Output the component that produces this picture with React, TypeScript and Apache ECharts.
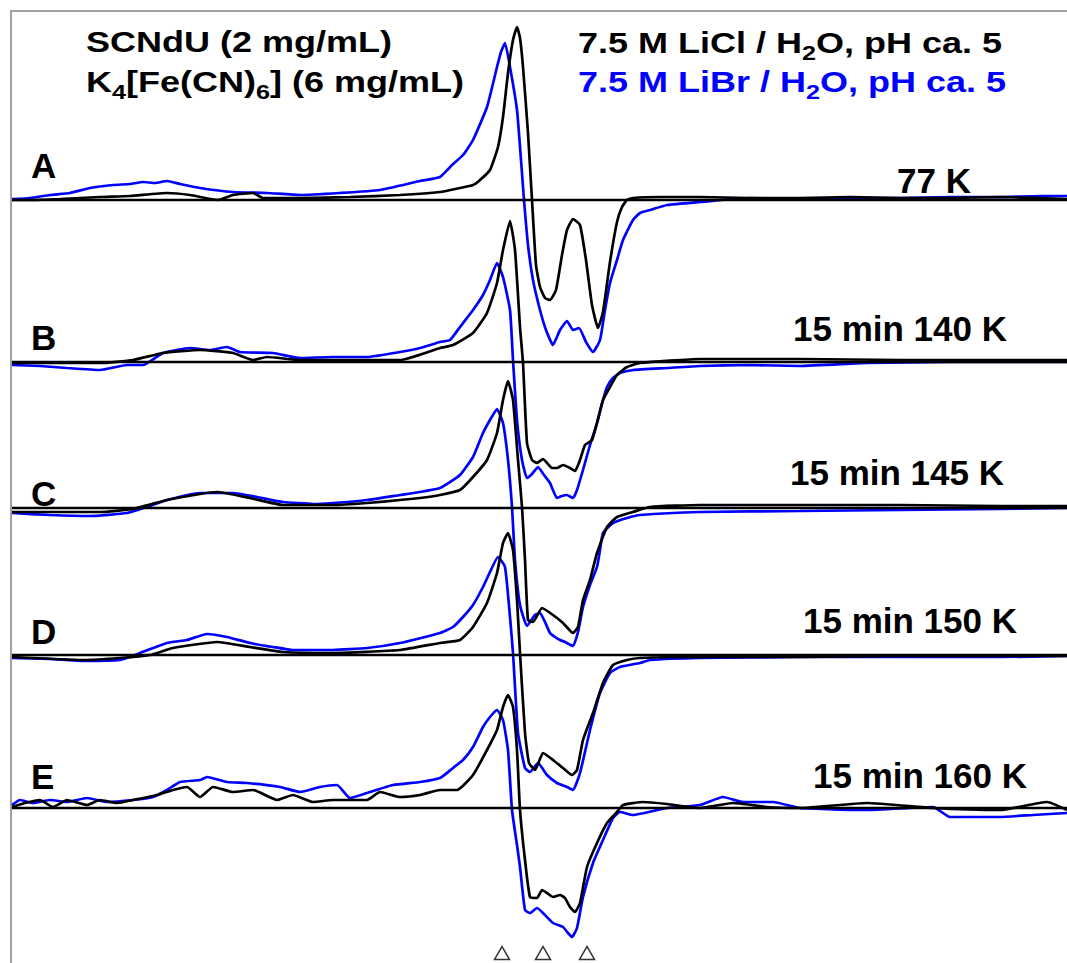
import React, { useEffect, useRef } from "react";
import * as echarts from "echarts";

const W = 1067;
const H = 963;

// ---- data (field in a.u., derivative intensity in a.u. relative to each spectrum's baseline) ----
const spectrumLabels = ["A", "B", "C", "D", "E"];
const temperatureLabels = ["77 K", "15 min 140 K", "15 min 145 K", "15 min 150 K", "15 min 160 K"];
const baselineOffsets = [763, 601, 455, 308, 155];
const fieldRange = [12, 1067];
const markerFields = [502, 543, 587];
const markerLevel = 10;

const liclA: number[][] = [[12,0],[33,0],[60,1],[100,3],[130,4],[167,7],[190,5],[218,0],[233,5],[253,7],[263,2],[300,2],[350,3],[400,5],[440,8],[460,12],[473,15],[480,20],[490,30],[498,53],[503,83],[508,127],[513,160],[517,173],[520,162],[523,133],[528,67],[532,0],[536,-65],[540,-87],[545,-98],[550,-100],[556,-90],[562,-55],[567,-30],[573,-19],[580,-25],[586,-60],[592,-105],[598,-128],[603,-112],[610,-62],[617,-22],[622,-7],[627,0],[633,2],[660,3],[700,3],[750,2],[800,2],[850,3],[900,2],[950,2],[1000,3],[1040,2],[1067,1]];
const librA: number[][] = [[12,1],[30,2],[50,5],[70,7],[90,12],[113,15],[130,16],[143,18],[155,17],[167,19],[180,16],[200,12],[233,8],[267,7],[300,5],[340,7],[380,10],[420,19],[440,23],[452,35],[463,45],[473,60],[487,93],[497,133],[501,148],[505,157],[510,133],[517,90],[521,40],[524,0],[528,-45],[533,-80],[540,-110],[546,-130],[553,-145],[560,-130],[567,-121],[573,-130],[579,-128],[586,-142],[593,-152],[600,-140],[605,-110],[610,-83],[617,-60],[623,-40],[633,-20],[640,-13],[650,-10],[667,-5],[700,-2],[750,2],[800,1],[850,2],[900,2],[950,3],[1000,3],[1040,4],[1067,4]];

const liclB: number[][] = [[12,-1],[50,-1],[100,-1],[133,2],[163,9],[200,12],[233,9],[253,2],[267,5],[300,2],[350,2],[400,2],[440,14],[453,17],[473,29],[487,49],[497,79],[503,112],[510,141],[515,112],[520,35],[523,-1],[527,-81],[532,-98],[537,-101],[543,-97],[552,-106],[557,-106],[563,-103],[570,-106],[575,-109],[580,-98],[585,-83],[592,-78],[597,-61],[603,-38],[610,-25],[617,-13],[627,-5],[640,-1],[700,3],[800,3],[900,2],[1000,2],[1067,2]];
const librB: number[][] = [[12,-3],[40,-4],[67,-6],[100,-8],[127,-3],[143,-3],[163,9],[190,14],[210,12],[227,15],[240,10],[273,9],[300,4],[333,5],[367,5],[400,10],[420,14],[440,20],[450,22],[460,35],[473,52],[483,67],[490,82],[497,99],[503,85],[510,52],[513,2],[517,-58],[522,-98],[527,-116],[532,-112],[538,-105],[544,-113],[550,-121],[557,-136],[562,-134],[567,-133],[573,-136],[577,-128],[583,-108],[590,-83],[597,-61],[603,-38],[607,-25],[613,-16],[620,-11],[633,-8],[667,-6],[700,-4],[750,-3],[800,-4],[867,-1],[950,0],[1000,0],[1067,0]];

const liclC: number[][] = [[12,-4],[50,-4],[100,-4],[133,-1],[167,8],[200,14],[217,16],[250,10],[283,3],[333,3],[367,5],[400,8],[420,10],[440,13],[460,18],[473,31],[487,48],[497,75],[503,108],[508,127],[513,108],[518,48],[522,1],[525,-52],[528,-112],[533,-114],[542,-100],[553,-107],[563,-115],[573,-125],[578,-119],[583,-92],[590,-72],[597,-45],[607,-19],[617,-9],[633,-4],[650,1],[700,3],[800,3],[900,3],[1000,2],[1067,2]];
const librC: number[][] = [[12,-5],[50,-7],[90,-8],[127,-5],[147,1],[167,8],[200,15],[233,15],[257,11],[283,6],[313,4],[333,5],[367,8],[400,13],[420,16],[440,20],[450,26],[460,33],[473,51],[483,75],[490,88],[497,99],[503,85],[508,48],[512,1],[515,-52],[520,-97],[527,-118],[535,-107],[540,-105],[545,-114],[550,-125],[555,-129],[560,-132],[565,-134],[573,-138],[578,-124],[583,-99],[590,-77],[597,-59],[600,-42],[603,-25],[613,-15],[627,-10],[640,-7],[700,-4],[800,-3],[900,-2],[1000,-1],[1067,0]];

const liclD: number[][] = [[12,-2],[83,-5],[120,-3],[150,0],[173,7],[217,13],[250,8],[283,3],[333,2],[400,5],[440,12],[460,15],[473,28],[487,52],[497,82],[503,112],[508,122],[513,105],[517,55],[520,2],[525,-78],[529,-108],[535,-115],[543,-98],[553,-105],[563,-113],[572,-120],[577,-115],[583,-85],[593,-58],[603,-28],[613,-10],[627,-5],[640,-3],[700,-2],[800,-2],[900,-1],[1000,-1],[1067,-1]];
const librD: number[][] = [[12,-3],[50,-4],[83,-6],[120,-5],[140,2],[167,12],[187,15],[207,21],[227,18],[250,12],[273,8],[293,5],[333,5],[367,7],[400,12],[440,22],[453,28],[463,38],[473,50],[483,68],[490,83],[498,98],[505,88],[510,38],[513,2],[518,-78],[525,-113],[530,-117],[538,-108],[547,-120],[557,-128],[567,-132],[573,-135],[580,-118],[590,-75],[600,-38],[610,-18],[620,-12],[640,-8],[650,-5],[700,-3],[800,-2],[900,-2],[1000,-2],[1067,-1]];

const liclE: number[][] = [[12,1],[25,5],[40,8],[53,1],[67,8],[87,3],[100,8],[117,5],[133,8],[157,13],[173,18],[187,21],[200,11],[213,21],[233,16],[253,18],[277,8],[293,13],[313,6],[333,8],[367,8],[380,16],[400,11],[420,13],[440,18],[457,18],[473,33],[487,58],[497,78],[503,101],[508,113],[513,101],[517,58],[520,-2],[525,-52],[530,-89],[537,-90],[542,-82],[547,-85],[553,-89],[560,-87],[565,-90],[570,-99],[575,-104],[580,-95],[587,-59],[597,-35],[607,-15],[617,-4],[623,3],[643,6],[667,4],[700,0],[733,5],[767,1],[800,0],[867,5],[933,0],[1000,-2],[1047,6],[1067,-2]];
const librE: number[][] = [[12,3],[20,8],[33,5],[50,8],[67,6],[87,10],[107,6],[133,8],[153,11],[167,18],[180,26],[200,28],[207,31],[227,26],[247,25],[280,21],[300,16],[320,21],[337,23],[350,10],[367,15],[393,23],[420,26],[440,30],[453,40],[463,48],[473,61],[483,81],[490,91],[497,98],[503,88],[508,58],[512,-2],[517,-37],[520,-59],[525,-102],[530,-105],[537,-100],[543,-105],[553,-115],[563,-119],[568,-125],[572,-129],[577,-120],[583,-89],[593,-55],[603,-32],[613,-10],[620,-4],[633,-7],[667,0],[700,3],[723,11],[743,6],[773,6],[800,0],[867,-2],[933,1],[950,-9],[1000,-9],[1033,-7],[1067,-5]];

const liclSpectra = [liclA, liclB, liclC, liclD, liclE];
const librSpectra = [librA, librB, librC, librD, librE];

const FONT = '"Liberation Sans", Arial, Helvetica, sans-serif';

type Piece = { t: string; sub?: boolean };

function measure(text: string, font: string): number {
  const c = document.createElement("canvas").getContext("2d")!;
  c.font = font;
  return c.measureText(text).width;
}

function textLine(pieces: Piece[], x: number, y: number, color: string, fs: number, subFs: number, subDy: number, scaleX: number) {
  const mainFont = `bold ${fs}px ${FONT}`;
  const subFont = `bold ${subFs}px ${FONT}`;
  let cx = 0;
  const children: any[] = [];
  for (const p of pieces) {
    const font = p.sub ? subFont : mainFont;
    children.push({
      type: "text",
      x: cx,
      y: p.sub ? subDy : 0,
      style: { text: p.t, font, fill: color, textAlign: "left", textVerticalAlign: "middle", verticalAlign: "middle" },
    });
    cx += measure(p.t, font);
  }
  return { type: "group", x, y, scaleX, children };
}

export default function App() {
  const ref = useRef<HTMLDivElement>(null);
  useEffect(() => {
    document.body.style.margin = "0";
    document.body.style.overflow = "hidden";
    const chart = echarts.init(ref.current!, null, { renderer: "svg" });

    const series: any[] = [];
    baselineOffsets.forEach((off, i) => {
      series.push({
        type: "line",
        data: librSpectra[i].map(([f, v]) => [f, off + v]),
        showSymbol: false,
        smooth: 0.15,
        lineStyle: { color: "#0000ff", width: 2.7 },
        z: 2,
        silent: true,
      });
      series.push({
        type: "line",
        data: liclSpectra[i].map(([f, v]) => [f, off + v]),
        showSymbol: false,
        smooth: 0.15,
        lineStyle: { color: "#000000", width: 2.7 },
        z: 3,
        silent: true,
      });
      series.push({
        type: "line",
        data: [[fieldRange[0], off], [fieldRange[1], off]],
        showSymbol: false,
        lineStyle: { color: "#000000", width: 2.6 },
        z: 4,
        silent: true,
      });
    });
    series.push({
      type: "scatter",
      data: markerFields.map((f) => [f, markerLevel]),
      symbol: "triangle",
      symbolSize: [15, 13],
      itemStyle: { color: "#ffffff", borderColor: "#000000", borderWidth: 1.5 },
      z: 5,
      silent: true,
    });

    const letterX = 31;
    const letterY = [165, 337, 493, 631, 776];
    const tempX = [897, 793, 790, 803, 813];
    const tempY = [180, 328, 472, 620, 775];

    const graphic: any[] = [];
    // gray frame (left and top edges)
    graphic.push({ type: "line", shape: { x1: 11, y1: 11, x2: 11, y2: H }, style: { stroke: "#a0a0a0", lineWidth: 2 } });
    graphic.push({ type: "line", shape: { x1: 10, y1: 11, x2: W, y2: 11 }, style: { stroke: "#a0a0a0", lineWidth: 2 } });

    spectrumLabels.forEach((l, i) => {
      graphic.push({
        type: "text",
        x: letterX,
        y: letterY[i],
        style: { text: l, font: `bold 35px ${FONT}`, fill: "#000", textAlign: "left", textVerticalAlign: "middle", verticalAlign: "middle" },
      });
      graphic.push({
        type: "text",
        x: tempX[i],
        y: tempY[i],
        style: { text: temperatureLabels[i], font: `bold 35px ${FONT}`, fill: "#000", textAlign: "left", textVerticalAlign: "middle", verticalAlign: "middle" },
      });
    });

    const sx = 1.2;
    graphic.push(textLine([{ t: "SCNdU (2 mg/mL)" }], 86, 42, "#000", 30, 21, 10, sx));
    graphic.push(textLine([{ t: "K" }, { t: "4", sub: true }, { t: "[Fe(CN)" }, { t: "6", sub: true }, { t: "] (6 mg/mL)" }], 86, 82, "#000", 30, 21, 10, sx));
    graphic.push(textLine([{ t: "7.5 M LiCl / H" }, { t: "2", sub: true }, { t: "O, pH ca. 5" }], 578, 43, "#000", 30, 21, 10, sx));
    graphic.push(textLine([{ t: "7.5 M LiBr / H" }, { t: "2", sub: true }, { t: "O, pH ca. 5" }], 578, 82, "#0000ff", 30, 21, 10, sx));

    const option: any = {
      animation: false,
      backgroundColor: "#ffffff",
      grid: {
        left: 11,
        top: 11,
        right: 0,
        bottom: 0,
        show: false,
        outerBoundsMode: "none",
      },
      xAxis: {
        type: "value",
        min: 11,
        max: 1067,
        show: false,
      },
      yAxis: {
        type: "value",
        min: 0,
        max: 952,
        show: false,
      },
      series,
      graphic,
    };
    chart.setOption(option);
    return () => chart.dispose();
  }, []);
  return <div ref={ref} style={{ width: W, height: H }} />;
}
